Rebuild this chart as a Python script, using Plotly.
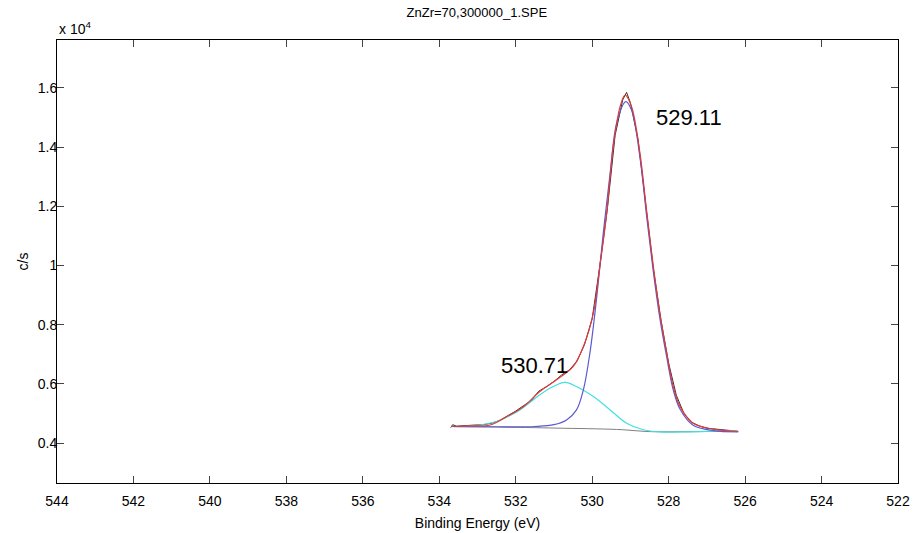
import plotly.graph_objects as go

# Binding energy (eV) and c/s
env_e = [533.68, 533.2, 532.67, 532.24, 531.8, 531.37, 530.93, 530.5, 530.23, 529.97,
         529.8, 529.62, 529.45, 529.27, 529.14, 528.97, 528.75, 528.57, 528.4, 528.23,
         528.05, 527.88, 527.7, 527.36, 526.83, 526.18]
env_c = [4560, 4580, 4610, 4890, 5230, 5740, 6140, 6580, 7260, 8390,
         9960, 11770, 14020, 15370, 15760, 15370, 13790, 11770, 9960, 8390,
         7040, 5910, 5230, 4670, 4470, 4390]

p1_e = [533.68, 532.5, 531.5, 531.0, 530.67, 530.41, 530.23, 530.06, 529.88, 529.71,
        529.53, 529.36, 529.12, 528.97, 528.75, 528.57, 528.4, 528.23, 528.05, 527.88,
        527.7, 527.36, 526.83, 526.18]
p1_c = [4560, 4550, 4560, 4620, 4780, 5120, 5800, 7040, 8950, 11090,
        13120, 14810, 15540, 15250, 13650, 11600, 9780, 8220, 6900, 5800,
        5140, 4600, 4420, 4380]

p2_e = [533.68, 533.37, 532.5, 531.89, 531.37, 531.02, 530.71, 530.41, 529.97, 529.53,
        529.1, 528.66, 528.14, 527.5, 526.83, 526.22]
p2_c = [4560, 4560, 4730, 5120, 5630, 5910, 6050, 5910, 5570, 5120,
        4670, 4450, 4370, 4380, 4400, 4410]

bg_e = [533.68, 532.5, 531.5, 530.76, 529.88, 529.2, 528.57, 528.0, 527.0, 526.18]
bg_c = [4560, 4540, 4520, 4500, 4480, 4450, 4390, 4380, 4390, 4400]

raw_e = [533.70, 533.65, 533.55, 533.3, 533.0, 532.8, 532.6, 532.4, 532.2, 532.0,
         531.8, 531.6, 531.4, 531.2, 531.0, 530.8, 530.6, 530.4, 530.2, 530.0,
         529.8, 529.6, 529.4, 529.2, 529.1, 529.0, 528.8, 528.6, 528.4, 528.2,
         528.0, 527.8, 527.6, 527.4, 527.2, 527.0, 526.8, 526.6, 526.4, 526.2]
raw_c = [4520, 4620, 4570, 4590, 4600, 4630, 4680, 4780, 4930, 5080,
         5260, 5420, 5750, 5900, 6080, 6300, 6470, 6760, 7330, 8200,
         9990, 11950, 14400, 15600, 15850, 15500, 14250, 12100, 9900, 8150,
         6700, 5620, 5000, 4700, 4580, 4500, 4470, 4440, 4430, 4400]

x_ticks = list(range(544, 521, -2))
y_ticks = [4000, 6000, 8000, 10000, 12000, 14000, 16000]
y_labels = ["0.4", "0.6", "0.8", "1", "1.2", "1.4", "1.6"]

fig = go.Figure()
fig.add_trace(go.Scatter(x=raw_e, y=raw_c, mode="lines",
                         line=dict(color="#303030", width=1)))
fig.add_trace(go.Scatter(x=bg_e, y=bg_c, mode="lines", line_shape="spline",
                         line=dict(color="#808080", width=1)))
fig.add_trace(go.Scatter(x=p2_e, y=p2_c, mode="lines", line_shape="spline",
                         line=dict(color="#40e0e0", width=1.2)))
fig.add_trace(go.Scatter(x=p1_e, y=p1_c, mode="lines", line_shape="spline",
                         line=dict(color="#5a5ad2", width=1.2)))
fig.add_trace(go.Scatter(x=env_e, y=env_c, mode="lines", line_shape="spline",
                         line=dict(color="#e03a3a", width=1.2)))

fig.add_annotation(x=527.47, y=14990, text="529.11", showarrow=False,
                   font=dict(size=22, color="black"))
fig.add_annotation(x=531.5, y=6610, text="530.71", showarrow=False,
                   font=dict(size=22, color="black"))
fig.add_annotation(x=0, y=1, xref="paper", yref="paper", xanchor="left", yanchor="bottom",
                   text="x 10<sup>4</sup>", showarrow=False, yshift=1,
                   font=dict(size=14, color="black"))

fig.update_layout(
    width=917, height=533,
    margin=dict(l=57, r=19, t=40, b=50),
    plot_bgcolor="white", paper_bgcolor="white",
    showlegend=False,
    font=dict(family="Liberation Sans Narrow, Liberation Sans, Arial", size=14, color="black"),
    title=dict(text="ZnZr=70,300000_1.SPE", x=0.52, xanchor="center", y=0.985, yanchor="top",
               font=dict(size=13)),
)
fig.update_xaxes(range=[544, 522], tickvals=x_ticks, ticks="inside", ticklen=7,
                 mirror="ticks", showline=True, linecolor="black", linewidth=1,
                 showgrid=False, zeroline=False, automargin=False, ticklabelstandoff=5,
                 title=dict(text="Binding Energy (eV)", standoff=10, font=dict(size=14)))
fig.update_yaxes(range=[2650, 17620], tickvals=y_ticks, ticktext=y_labels,
                 ticks="inside", ticklen=7, mirror="ticks", showline=True,
                 linecolor="black", linewidth=1, showgrid=False, zeroline=False,
                 automargin=False, ticklabelstandoff=-4,
                 title=dict(text="c/s", standoff=5, font=dict(size=14)))

# drop the page's default body margin so the figure sits at the window's corner
fig.write_html("out.html", config={"displayModeBar": False},
               post_script="document.body.style.margin='0';")
